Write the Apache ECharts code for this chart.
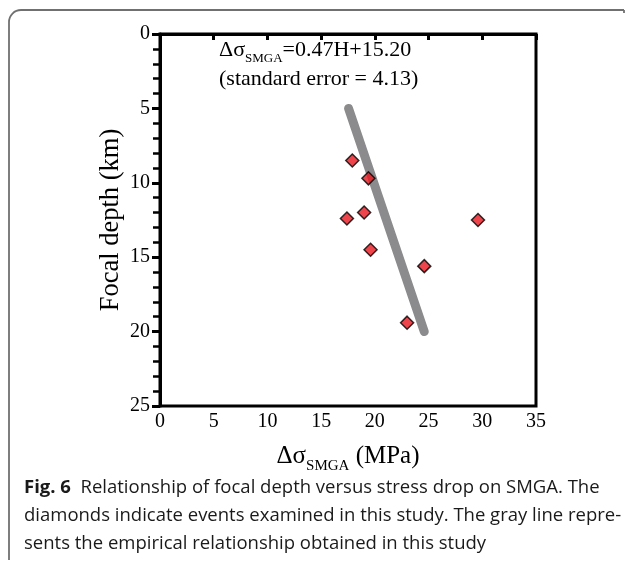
<!DOCTYPE html>
<html>
<head>
<meta charset="utf-8">
<script src="https://cdn.jsdelivr.net/npm/echarts@6/dist/echarts.min.js"></script>
<style>
html,body{margin:0;padding:0;background:#fff;}
#c{width:627px;height:562px;}
</style>
</head>
<body>
<div id="c"></div>
<script>
// Data
var stressDrop = [17.9, 19.4, 19.0, 17.4, 29.6, 19.6, 24.6, 23.0];   // MPa
var focalDepth = [8.5, 9.7, 12.0, 12.4, 12.5, 14.5, 15.6, 19.4];     // km
var fitDepth = [5, 20];                                              // km
var fitStress = [17.55, 24.6];                                       // 0.47H + 15.20
var xTicks = [0, 5, 10, 15, 20, 25, 30, 35];
var yTicks = [0, 5, 10, 15, 20, 25];

var points = stressDrop.map(function (v, i) { return [v, focalDepth[i]]; });
var fitLine = fitStress.map(function (v, i) { return [v, fitDepth[i]]; });

var serif = '"Liberation Serif", "Times New Roman", serif';
var sans = '"Open Sans", "Noto Sans", sans-serif';
var frameStyle = {stroke: '#707070', lineWidth: 1.8, fill: 'none'};

var chart = echarts.init(document.getElementById('c'), null, {renderer: 'canvas'});
chart.setOption({
  animation: false,
  backgroundColor: '#fff',
  grid: {left: 160, right: 91, top: 34, bottom: 156, show: true, borderColor: '#000', borderWidth: 3, backgroundColor: 'transparent'},
  xAxis: {
    type: 'value', min: xTicks[0], max: xTicks[xTicks.length - 1], interval: 5,
    axisLine: {show: true, lineStyle: {color: '#000', width: 3}},
    axisTick: {show: true, length: 6, lineStyle: {color: '#000', width: 3}},
    splitLine: {show: false},
    axisLabel: {color: '#000', fontFamily: serif, fontSize: 20, margin: 6},
    name: '{a|Δσ}{s|SMGA}{a| (MPa)}', nameLocation: 'middle', nameGap: 32,
    nameTextStyle: {rich: {
      a: {fontFamily: serif, fontSize: 25, color: '#000'},
      s: {fontFamily: serif, fontSize: 15, color: '#000', padding: [21, 0, 0, 0]}
    }}
  },
  yAxis: {
    type: 'value', inverse: true, min: yTicks[0], max: yTicks[yTicks.length - 1], interval: 5,
    axisLine: {show: true, lineStyle: {color: '#000', width: 3}},
    axisTick: {show: true, length: 8, lineStyle: {color: '#000', width: 3}},
    minorTick: {show: true, splitNumber: 5, length: 7, lineStyle: {color: '#000', width: 2.5}},
    splitLine: {show: false},
    axisLabel: {color: '#000', fontFamily: serif, fontSize: 20, margin: 10},
    name: 'Focal depth (km)', nameLocation: 'middle', nameGap: 35, nameRotate: 90,
    nameMoveOverlap: false,
    nameTextStyle: {fontFamily: serif, fontSize: 26.5, color: '#000'}
  },
  series: [
    {
      type: 'line', data: fitLine, symbol: 'none', z: 2,
      lineStyle: {color: '#8b8b8d', width: 9, cap: 'round'}
    },
    {
      type: 'scatter', data: points, symbol: 'diamond', symbolSize: 13, z: 5,
      itemStyle: {color: '#e8161e', borderColor: '#000', borderWidth: 1.5}
    }
  ],
  graphic: [
    {type: 'line', silent: true, shape: {x1: 9, y1: 560, x2: 9, y2: 22}, style: frameStyle},
    {type: 'arc', silent: true, shape: {cx: 21, cy: 22, r: 12, startAngle: Math.PI, endAngle: Math.PI * 1.5}, style: frameStyle},
    {type: 'line', silent: true, shape: {x1: 21, y1: 10, x2: 624, y2: 10}, style: frameStyle},
    {type: 'line', silent: true, shape: {x1: 624, y1: 10, x2: 624, y2: 13}, style: frameStyle},
    {
      type: 'text', left: 219, top: 39, silent: true,
      style: {
        text: '{a|Δσ}{s|SMGA}{a|=0.47H+15.20}\n{a|(standard error = 4.13)}',
        rich: {
          a: {fontFamily: serif, fontSize: 22, fill: '#000', lineHeight: 27},
          s: {fontFamily: serif, fontSize: 13, fill: '#000', padding: [18, 0, 0, 0]}
        }
      }
    },
    {
      type: 'text', left: 24, top: 478, silent: true,
      style: {
        text: '{b|Fig. 6}{n|  Relationship of focal depth versus stress drop on SMGA. The}\n{n|diamonds indicate events examined in this study. The gray line repre-}\n{n|sents the empirical relationship obtained in this study}',
        rich: {
          b: {fontFamily: sans, fontWeight: 'bold', fontSize: 18.5, fill: '#1a1a1a', lineHeight: 28},
          n: {fontFamily: sans, fontSize: 18.5, fill: '#1a1a1a', lineHeight: 28}
        }
      }
    }
  ]
});
</script>
</body>
</html>
